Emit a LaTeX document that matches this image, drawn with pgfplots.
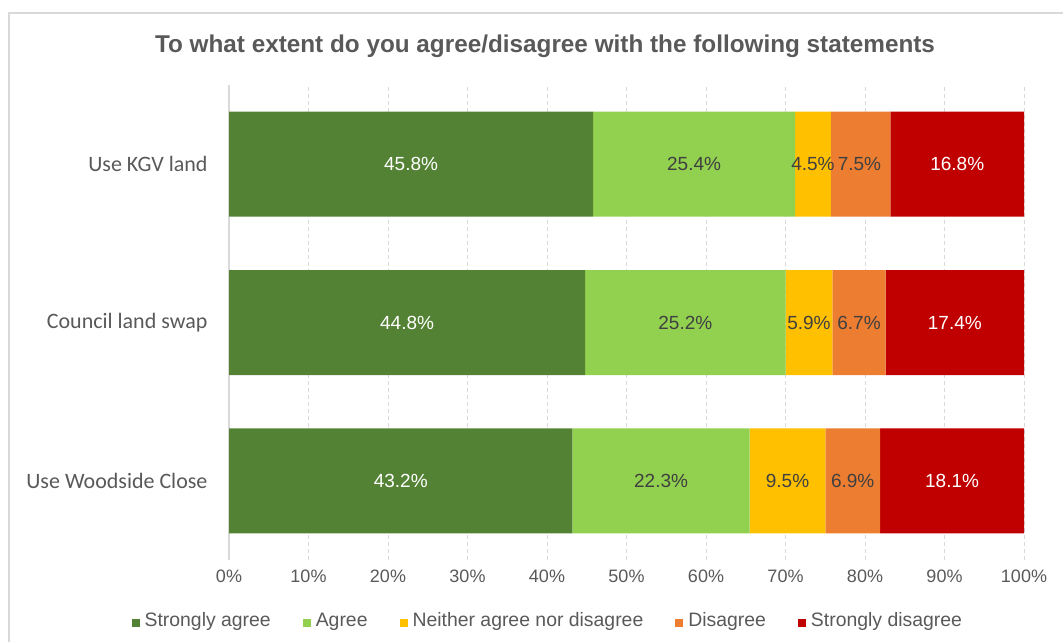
\documentclass[border=0pt]{standalone}
\usepackage{fontspec}
\setmainfont{Liberation Sans}
\newfontfamily\calib{Carlito}
\usepackage{pgfplots}
\pgfplotsset{compat=1.18}
\definecolor{sa}{HTML}{548235}
\definecolor{ag}{HTML}{92D050}
\definecolor{ne}{HTML}{FFC000}
\definecolor{di}{HTML}{ED7D31}
\definecolor{sd}{HTML}{C00000}
\definecolor{txt}{HTML}{595959}
\definecolor{lbl}{HTML}{404040}
\definecolor{gridc}{HTML}{D9D9D9}
\begin{document}
\begin{tikzpicture}
\path[use as bounding box] (0pt,0pt) rectangle (1063pt,641pt);
\draw[gridc, line width=2pt] (9pt,-5pt) -- (9pt,627.5pt) -- (1070pt,627.5pt);
\node[text=txt, font=\bfseries\fontsize{24.3}{28}\selectfont] at (545pt,595pt) {To what extent do you agree/disagree with the following statements};
\begin{axis}[
  at={(229pt,81pt)}, anchor=south west, scale only axis,
  width=795pt, height=475pt,
  xbar stacked, bar width=105pt,
  xmin=0, xmax=100, ymin=-0.5, ymax=2.5,
  ytick={0,1,2},
  yticklabels={Use Woodside Close, Council land swap, Use KGV land},
  xtick={0,10,...,100},
  xticklabels={0\%,10\%,20\%,30\%,40\%,50\%,60\%,70\%,80\%,90\%,100\%},
  major tick length=0pt,
  axis line style={draw=none},
  xmajorgrids,
  major grid style={gridc, line width=1pt, dash pattern=on 4pt off 3pt},
  extra x ticks={0}, extra x tick labels={},
  extra x tick style={grid=major, major grid style={gridc, solid, line width=1.5pt}},
  xticklabel style={font=\fontsize{18}{21}\selectfont, text=txt, yshift=-6pt},
  yticklabel style={font=\calib\fontsize{22}{26}\selectfont, text=txt, xshift=-18pt},
  legend style={at={(0.401,-0.1345)}, anchor=center, draw=none, fill=none,
    legend columns=-1, font=\fontsize{19.4}{22}\selectfont, text=txt,
    nodes={text height=1.6ex, text depth=0.45ex},
    /tikz/every even column/.append style={column sep=30pt},
    /tikz/every odd column/.append style={column sep=3pt}},
  legend image code/.code={\fill[#1] (0pt,-3.5pt) rectangle (8pt,4.5pt);},
]
\addplot[fill=sa, draw=none] coordinates {(43.2,0) (44.8,1) (45.8,2)};
\addplot[fill=ag, draw=none] coordinates {(22.3,0) (25.2,1) (25.4,2)};
\addplot[fill=ne, draw=none] coordinates {(9.5,0) (5.9,1) (4.5,2)};
\addplot[fill=di, draw=none] coordinates {(6.9,0) (6.7,1) (7.5,2)};
\addplot[fill=sd, draw=none] coordinates {(18.1,0) (17.4,1) (16.8,2)};
\legend{Strongly agree, Agree, Neither agree nor disagree, Disagree, Strongly disagree}
\end{axis}
\begin{axis}[
  at={(229pt,81pt)}, anchor=south west, scale only axis,
  width=795pt, height=475pt, hide axis,
  xmin=0, xmax=100, ymin=-0.5, ymax=2.5,
  every node near coord/.append style={anchor=center, font=\fontsize{19}{22}\selectfont},
]
\addplot[draw=none, nodes near coords, point meta=explicit symbolic,
  every node near coord/.append style={text=white}]
  coordinates {(21.6,0) [43.2\%] (22.4,1) [44.8\%] (22.9,2) [45.8\%]};
\addplot[draw=none, nodes near coords, point meta=explicit symbolic,
  every node near coord/.append style={text=lbl}]
  coordinates {(54.35,0) [22.3\%] (57.4,1) [25.2\%] (58.5,2) [25.4\%]};
\addplot[draw=none, nodes near coords, point meta=explicit symbolic,
  every node near coord/.append style={text=lbl}]
  coordinates {(70.25,0) [9.5\%] (72.95,1) [5.9\%] (73.45,2) [4.5\%]};
\addplot[draw=none, nodes near coords, point meta=explicit symbolic,
  every node near coord/.append style={text=lbl}]
  coordinates {(78.45,0) [6.9\%] (79.25,1) [6.7\%] (79.3,2) [7.5\%]};
\addplot[draw=none, nodes near coords, point meta=explicit symbolic,
  every node near coord/.append style={text=white}]
  coordinates {(90.95,0) [18.1\%] (91.3,1) [17.4\%] (91.6,2) [16.8\%]};
\end{axis}
\end{tikzpicture}
\end{document}
